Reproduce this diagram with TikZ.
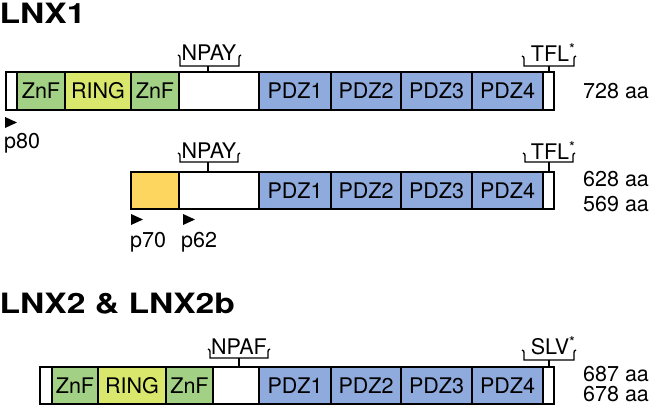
\documentclass[tikz,border=0pt]{standalone}
\usepackage{fontspec}
\setmainfont{TeX Gyre Heros}
\newfontfamily\ttlfont{TeX Gyre Heros}[FakeStretch=1.2]
\definecolor{znfgreen}{HTML}{A2D085}
\definecolor{ringyellow}{HTML}{D9E86C}
\definecolor{pdzblue}{HTML}{8FAADC}
\definecolor{startyellow}{HTML}{FDD660}
\newcommand\domseg[7]{%
  \node[dom,#6,minimum width={#3pt-#2pt},minimum height={#5pt-#4pt}] (#1) at ({(#2+#3)/2},{(#4+#5)/2}) {#7};}
\newcommand\motifbr[6]{% name, x1, x2, top, bottom, stem x
  \draw[brk] ({#2-2},#4) .. controls (#2,{#4+1}) .. (#2,{#4+3}) -- (#2,#5) -- (#3,#5) -- (#3,{#4+3}) .. controls (#3,{#4+1}) .. ({#3+2},#4);
  \coordinate (#1) at (#6,#5);}
\begin{document}
\begin{tikzpicture}[x=1pt,y=-1pt,
  dom/.style={draw, line width=1.7pt, inner sep=0pt, font=\fontsize{21.5}{25}\selectfont},
  brk/.style={line width=1.3pt},
  lab/.style={inner sep=0pt, font=\fontsize{21.5}{25}\selectfont},
  ttl/.style={inner sep=0pt, anchor=base west, font=\ttlfont\fontsize{28}{34}\selectfont\bfseries},
  tri/.style={fill=black}]
\useasboundingbox (0,0) rectangle (649,406);
% titles
\node[ttl] (t1) at (-0.5,23.5) {LNX1};
\node[ttl] (t2) at (-0.5,314) {LNX2 \& LNX2b};
% ---------- row 1
\domseg{a0}{6}{17}{72}{110}{fill=white}{}
\domseg{a1}{17}{65}{72}{110}{fill=znfgreen}{ZnF}
\domseg{a2}{65}{131}{72}{110}{fill=ringyellow}{RING}
\domseg{a3}{131}{179}{72}{110}{fill=znfgreen}{ZnF}
\domseg{a4}{179}{259}{72}{110}{fill=white}{}
\domseg{a5}{259}{331}{72}{110}{fill=pdzblue}{PDZ1}
\domseg{a6}{331}{401}{72}{110}{fill=pdzblue}{PDZ2}
\domseg{a7}{401}{472}{72}{110}{fill=pdzblue}{PDZ3}
\domseg{a8}{472}{543}{72}{110}{fill=pdzblue}{PDZ4}
\domseg{a9}{543}{554}{72}{110}{fill=white}{}
\motifbr{am1}{180}{239}{55}{66}{208}
\draw[brk] (am1) -- (am1 |- a4.north);
\node[lab] (amt1) at (209,52.5) {NPAY};
\motifbr{am2}{524}{574}{56}{66}{549}
\draw[brk] (am2) -- (am2 |- a9.north);
\node[lab] (amt2) at (550,52.5) {TFL\rlap{\textsuperscript{*}}};
\node[lab,anchor=base west] (al) at (583,99) {728 aa};
\fill[tri] (5,117) -- (17,122.5) -- (5,128) -- cycle;
\node[lab,anchor=base west] (ap80) at (4,149) {p80};
% ---------- row 2
\domseg{b1}{131}{179}{172}{209}{fill=startyellow}{}
\domseg{b2}{179}{259}{172}{209}{fill=white}{}
\domseg{b3}{259}{331}{172}{209}{fill=pdzblue}{PDZ1}
\domseg{b4}{331}{401}{172}{209}{fill=pdzblue}{PDZ2}
\domseg{b5}{401}{472}{172}{209}{fill=pdzblue}{PDZ3}
\domseg{b6}{472}{543}{172}{209}{fill=pdzblue}{PDZ4}
\domseg{b7}{543}{554}{172}{209}{fill=white}{}
\motifbr{bm1}{180}{238}{153}{162}{208}
\draw[brk] (bm1) -- (bm1 |- b2.north);
\node[lab] (bmt1) at (209,150.5) {NPAY};
\motifbr{bm2}{525}{573}{153}{162}{549}
\draw[brk] (bm2) -- (bm2 |- b7.north);
\node[lab] (bmt2) at (550,150.5) {TFL\rlap{\textsuperscript{*}}};
\node[lab,anchor=base west] (bl1) at (583,187) {628 aa};
\node[lab,anchor=base west] (bl2) at (583,212) {569 aa};
\fill[tri] (131,214) -- (143,219.5) -- (131,225) -- cycle;
\fill[tri] (183,214) -- (195,219.5) -- (183,225) -- cycle;
\node[lab,anchor=base west] (bp70) at (130,248) {p70};
\node[lab,anchor=base west] (bp62) at (181,248) {p62};
% ---------- row 3
\domseg{c0}{40}{52}{367}{404}{fill=white}{}
\domseg{c1}{52}{98}{367}{404}{fill=znfgreen}{ZnF}
\domseg{c2}{98}{166}{367}{404}{fill=ringyellow}{RING}
\domseg{c3}{166}{213}{367}{404}{fill=znfgreen}{ZnF}
\domseg{c4}{213}{259}{367}{404}{fill=white}{}
\domseg{c5}{259}{331}{367}{404}{fill=pdzblue}{PDZ1}
\domseg{c6}{331}{401}{367}{404}{fill=pdzblue}{PDZ2}
\domseg{c7}{401}{472}{367}{404}{fill=pdzblue}{PDZ3}
\domseg{c8}{472}{543}{367}{404}{fill=pdzblue}{PDZ4}
\domseg{c9}{543}{554}{367}{404}{fill=white}{}
\motifbr{cm1}{210}{268}{349}{358}{239}
\draw[brk] (cm1) -- (cm1 |- c4.north);
\node[lab] (cmt1) at (239,346.5) {NPAF};
\motifbr{cm2}{524}{574}{350}{360}{549}
\draw[brk] (cm2) -- (cm2 |- c9.north);
\node[lab] (cmt2) at (550,345.5) {SLV\rlap{\textsuperscript{*}}};
\node[lab,anchor=base west] (cl1) at (583,382) {687 aa};
\node[lab,anchor=base west] (cl2) at (583,402) {678 aa};
\end{tikzpicture}
\end{document}
